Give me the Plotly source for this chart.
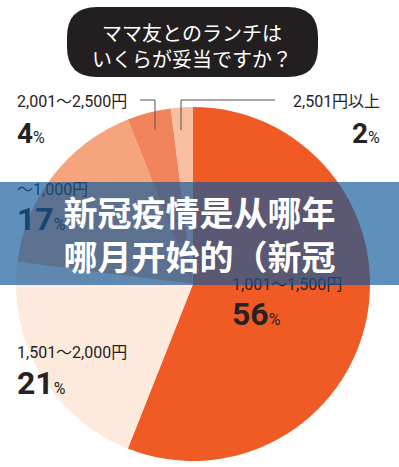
import plotly.graph_objects as go

# ---- data ----
categories = ["1,001〜1,500円", "1,501〜2,000円", "〜1,000円", "2,001〜2,500円", "2,501円以上"]
values = [56, 21, 17, 4, 2]
title_lines = ["ママ友とのランチは", "いくらが妥当ですか？"]
banner_lines = ["新冠疫情是从哪年", "哪月开始的（新冠"]

# ---- style ----
W, H = 399, 467
colors = ["#F05A24", "#FDEADC", "#F6A47D", "#F1845A", "#F8BFA1"]
DARK = "#262223"
LABEL_FONT = "Roboto, 'Noto Sans CJK JP', sans-serif"


def px(x):
    return x / W


def py(y):
    return 1 - y / H


# pie geometry (pixels)
cx, cy, r = 193, 284, 177

fig = go.Figure()
fig.add_trace(go.Pie(
    labels=categories,
    values=values,
    sort=False,
    direction="clockwise",
    rotation=0,
    marker=dict(colors=colors, line=dict(width=0)),
    textinfo="none",
    hoverinfo="skip",
    showlegend=False,
    domain=dict(x=[px(cx - r), px(cx + r)], y=[py(cy + r), py(cy - r)]),
))

shapes = []
# title bubble (rounded pill)
x0, x1, y0, y1, rr = 67, 318, 7, 77, 30


def P(x, y):
    return f"{px(x):.5f},{py(y):.5f}"


path = (f"M {P(x0 + rr, y0)} L {P(x1 - rr, y0)} Q {P(x1, y0)} {P(x1, y0 + rr)} "
        f"L {P(x1, y1 - rr)} Q {P(x1, y1)} {P(x1 - rr, y1)} L {P(x0 + rr, y1)} "
        f"Q {P(x0, y1)} {P(x0, y1 - rr)} L {P(x0, y0 + rr)} Q {P(x0, y0)} {P(x0 + rr, y0)} Z")
shapes.append(dict(type="path", path=path, xref="paper", yref="paper",
                   fillcolor="#231F20", line=dict(width=0), layer="above"))

# leader lines
lc = dict(color="#555555", width=1)
for (xa, ya, xb, yb) in [(140, 100, 155, 100), (155, 100, 155, 130),
                         (181, 100, 275, 100), (181, 100, 181, 130)]:
    shapes.append(dict(type="line", xref="paper", yref="paper",
                       x0=px(xa), y0=py(ya), x1=px(xb), y1=py(yb),
                       line=lc, layer="above"))

annotations = []
annotations.append(dict(
    text="<br>".join(title_lines), x=px(192), y=py(45), xref="paper", yref="paper",
    xanchor="center", yanchor="middle", showarrow=False, align="center",
    font=dict(family="'Noto Sans CJK JP', sans-serif", size=20, color="white")))

# label positions: (x, name_y, pct_y, anchor, pct_size)
label_pos = {
    "2,001〜2,500円": (15, 102, 134, "left", 28),
    "2,501円以上": (382, 102, 134, "right", 28),
    "〜1,000円": (15, 190, 219, "left", 32),
    "1,001〜1,500円": (230, 284, 314, "left", 32),
    "1,501〜2,000円": (15, 352, 383, "left", 32),
}

for cat, val in zip(categories, values):
    lx, ny, pyy, anc, psz = label_pos[cat]
    annotations.append(dict(
        text=cat, x=px(lx), y=py(ny), xref="paper", yref="paper",
        xanchor=anc, yanchor="middle", showarrow=False,
        font=dict(family=LABEL_FONT, size=16, color=DARK)))
    annotations.append(dict(
        text=f"<b>{val}</b><span style='font-size:16px'>%</span>",
        x=px(lx), y=py(pyy), xref="paper", yref="paper",
        xanchor=anc, yanchor="middle", showarrow=False,
        font=dict(family=LABEL_FONT, size=psz, color=DARK)))

# overlay banner (drawn last, on top)
annotations.append(dict(
    text="<b>" + "<br>".join(banner_lines) + "</b>",
    x=0.5, y=py(233.5), xref="paper", yref="paper",
    xanchor="center", yanchor="middle", showarrow=False,
    width=W, height=103, bgcolor="rgba(16,88,154,0.67)",
    borderpad=0, borderwidth=0, align="center", valign="middle",
    font=dict(family="'Noto Sans CJK SC', sans-serif", size=34, color="white")))

fig.update_layout(
    width=W, height=H,
    margin=dict(l=0, r=0, t=0, b=0),
    paper_bgcolor="white", plot_bgcolor="white",
    shapes=shapes, annotations=annotations,
)

fig.write_html("out.html", config={"displayModeBar": False},
               post_script="document.body.style.margin='0';")
